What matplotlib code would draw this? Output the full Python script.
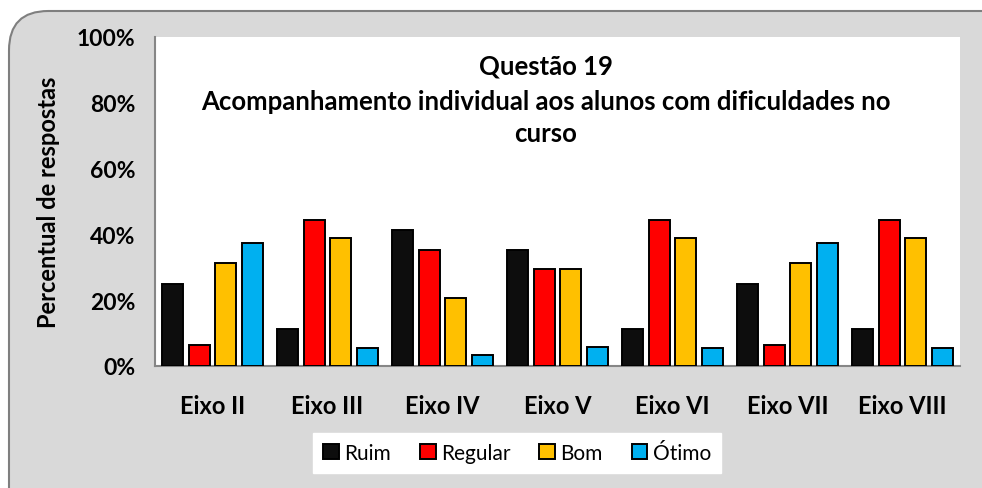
import numpy as np
import matplotlib
matplotlib.use("Agg")
import matplotlib.pyplot as plt
from matplotlib.patches import FancyBboxPatch
from matplotlib.ticker import PercentFormatter

plt.rcParams['font.family'] = ['Lato', 'DejaVu Sans']

eixos = ["Eixo II", "Eixo III", "Eixo IV", "Eixo V", "Eixo VI", "Eixo VII", "Eixo VIII"]
ruim = [25.0, 11.1, 41.2, 35.3, 11.1, 25.0, 11.1]
regular = [6.25, 44.4, 35.3, 29.4, 44.4, 6.25, 44.4]
bom = [31.25, 38.9, 20.6, 29.4, 38.9, 31.25, 38.9]
otimo = [37.5, 5.6, 3.4, 5.9, 5.6, 37.5, 5.6]

series = [("Ruim", ruim, "#0d0d0d"), ("Regular", regular, "#ff0000"),
          ("Bom", bom, "#ffc000"), ("Ótimo", otimo, "#00b0f0")]

title_lines = ["Questão 19",
               "Acompanhamento individual aos alunos com dificuldades no",
               "curso"]

fig = plt.figure(figsize=(9.82, 4.89), dpi=100)
fig.patch.set_facecolor("white")

# rounded grey chart area, running off right and bottom edges
frame = FancyBboxPatch((9 / 982, -0.2), 1.2, 1 - 12 / 489 + 0.2,
                       boxstyle="round,pad=0,rounding_size=0.04",
                       transform=fig.transFigure, facecolor="#d9d9d9",
                       edgecolor="#7f7f7f", linewidth=1.5, mutation_aspect=982 / 489,
                       zorder=-10)
fig.patches.append(frame)

ax = fig.add_axes([155 / 982, 1 - 367 / 489, 805 / 982, 329 / 489])
ax.set_facecolor("white")

x = np.arange(len(eixos))
pitch = 0.233
width = 0.183
for i, (name, vals, color) in enumerate(series):
    ax.bar(x + (i - 1.5) * pitch, vals, width, color=color, edgecolor="black",
           linewidth=1.4, label=name, zorder=3)

ax.set_xlim(-0.5, len(eixos) - 0.5)
ax.set_ylim(0, 100)
ax.set_yticks(np.arange(0, 101, 20))
ax.yaxis.set_major_formatter(PercentFormatter(decimals=0))
ax.set_xticks(x)
ax.set_xticklabels(eixos)
for lbl in ax.get_yticklabels():
    lbl.set_fontweight("bold")
    lbl.set_fontsize(16.5)
for lbl in ax.get_xticklabels():
    lbl.set_fontweight("bold")
    lbl.set_fontsize(17)
ax.tick_params(axis="both", length=0)
ax.tick_params(axis="x", pad=20)
ax.tick_params(axis="y", pad=14)

for side in ["top", "right"]:
    ax.spines[side].set_visible(False)
for side in ["left", "bottom"]:
    ax.spines[side].set_color("#868686")
    ax.spines[side].set_linewidth(1.5)

ax.set_ylabel("Percentual de respostas", fontsize=17, fontweight="bold", labelpad=12)

# title lines placed one by one inside the plot area (baselines in pixels)
for line, ypix in zip(title_lines, [75, 110, 142]):
    ax.text((546 - 155) / 805, (367 - ypix) / 329, line, transform=ax.transAxes,
            ha="center", va="baseline", fontsize=18.5, fontweight="bold")

leg = fig.legend(loc="center", bbox_to_anchor=(517 / 982, 1 - 454 / 489), ncol=4,
                 frameon=True, fancybox=False, framealpha=1, fontsize=15,
                 handlelength=0.75, handleheight=0.75, handletextpad=0.25,
                 columnspacing=1.4, borderpad=0.5)
leg.get_frame().set_edgecolor("white")
leg.get_frame().set_facecolor("white")

fig.savefig("out.png", dpi=100)
